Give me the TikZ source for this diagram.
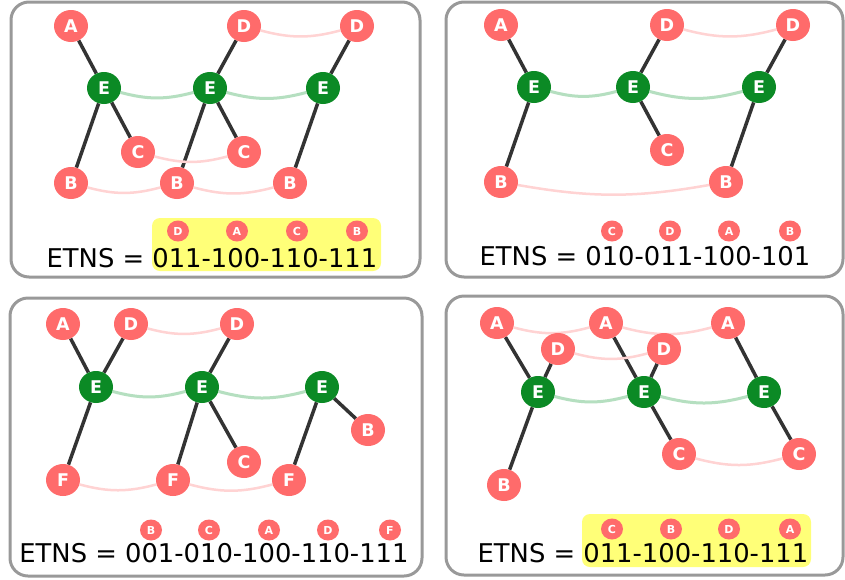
\documentclass[tikz,border=0pt]{standalone}
\usepackage{fontspec}
\setmainfont{DejaVu Sans}
\usetikzlibrary{shapes.geometric}
\pgfdeclarelayer{background}
\pgfsetlayers{background,main}
\definecolor{nodered}{HTML}{FF6B6B}
\definecolor{nodegreen}{HTML}{0B8A25}
\definecolor{lightgreen}{HTML}{B5DFC0}
\definecolor{lightpink}{HTML}{FFD3D3}
\definecolor{hlyellow}{HTML}{FFFF78}
\definecolor{framegray}{HTML}{999999}
\definecolor{edgedark}{HTML}{333333}
\tikzset{
  panel/.style={draw=framegray, line width=3pt, rounded corners=18pt},
  rnode/.style={ellipse, fill=nodered, text=white, inner sep=0pt, minimum width=34pt, minimum height=32pt, font=\fontsize{17.5}{17.5}\selectfont\bfseries},
  enode/.style={ellipse, fill=nodegreen, text=white, inner sep=0pt, minimum width=34pt, minimum height=32pt, font=\fontsize{17.5}{17.5}\selectfont\bfseries},
  snode/.style={ellipse, fill=nodered, text=white, inner sep=0pt, minimum width=22pt, minimum height=21pt, font=\fontsize{11}{11}\selectfont\bfseries},
  tree/.style={draw=edgedark, line width=3.5pt},
  gcurve/.style={draw=lightgreen, line width=3pt, out=-15, in=195},
  pcurve/.style={draw=lightpink, line width=2.5pt, out=-15, in=195},
  hl/.style={fill=hlyellow, rounded corners=8pt},
  etns/.style={anchor=base, inner sep=0pt, font=\fontsize{25.8}{26}\selectfont},
}
\begin{document}
\begin{tikzpicture}[x=1pt, y=-1pt]
\useasboundingbox (0,0) rectangle (845,579);
% ---------- frames ----------
\draw[panel] (11,2) rectangle (420,277);
\draw[panel] (446,2) rectangle (843,277);
\draw[panel] (10,298) rectangle (422,576);
\draw[panel] (446,296) rectangle (843,575);
% ---------- highlights ----------
\fill[hl] (152,218) rectangle (381,271);
\fill[hl] (582,514) rectangle (811,567);

% ================= Panel 1 =================
\node[rnode] (p1A) at (71,26) {A};
\node[rnode] (p1D1) at (244,26) {D};
\node[rnode] (p1D2) at (357,26) {D};
\node[enode] (p1E1) at (104,88) {E};
\node[enode] (p1E2) at (210,88) {E};
\node[enode] (p1E3) at (323,88) {E};
\node[rnode] (p1C1) at (138,152) {C};
\node[rnode] (p1C2) at (244,152) {C};
\node[rnode] (p1B1) at (71,183) {B};
\node[rnode] (p1B2) at (177,183) {B};
\node[rnode] (p1B3) at (290,183) {B};
\node[snode] (p1s1) at (178,231) {D};
\node[snode] (p1s2) at (237,231) {A};
\node[snode] (p1s3) at (297,231) {C};
\node[snode] (p1s4) at (357,231) {B};
\node[etns] (p1t) at (212,267) {ETNS = 011-100-110-111};

% ================= Panel 2 =================
\node[rnode] (p2A) at (501,25) {A};
\node[rnode] (p2D1) at (667,25) {D};
\node[rnode] (p2D2) at (793,25) {D};
\node[enode] (p2E1) at (534,87) {E};
\node[enode] (p2E2) at (633,87) {E};
\node[enode] (p2E3) at (759,87) {E};
\node[rnode] (p2C) at (667,150) {C};
\node[rnode] (p2B1) at (501,182) {B};
\node[rnode] (p2B2) at (726,182) {B};
\node[snode] (p2s1) at (612,231) {C};
\node[snode] (p2s2) at (670,231) {D};
\node[snode] (p2s3) at (729,231) {A};
\node[snode] (p2s4) at (790,231) {B};
\node[etns] (p2t) at (645,265) {ETNS = 010-011-100-101};

% ================= Panel 3 =================
\node[rnode] (p3A) at (63,324) {A};
\node[rnode] (p3D1) at (131,324) {D};
\node[rnode] (p3D2) at (237,324) {D};
\node[enode] (p3E1) at (96,387) {E};
\node[enode] (p3E2) at (202,387) {E};
\node[enode] (p3E3) at (322,387) {E};
\node[rnode] (p3B) at (368,430) {B};
\node[rnode] (p3C) at (244,462) {C};
\node[rnode] (p3F1) at (63,480) {F};
\node[rnode] (p3F2) at (173,480) {F};
\node[rnode] (p3F3) at (289,480) {F};
\node[snode] (p3s1) at (151,530) {B};
\node[snode] (p3s2) at (209,530) {C};
\node[snode] (p3s3) at (269,530) {A};
\node[snode] (p3s4) at (328,530) {D};
\node[snode] (p3s5) at (390,530) {F};
\node[etns] (p3t) at (214,562) {ETNS = 001-010-100-110-111};

% ================= Panel 4 =================
\node[rnode] (p4A1) at (497,323) {A};
\node[rnode] (p4A2) at (606,323) {A};
\node[rnode] (p4A3) at (728,323) {A};
\node[rnode] (p4D1) at (558,349) {D};
\node[rnode] (p4D2) at (664,349) {D};
\node[enode] (p4E1) at (538,392) {E};
\node[enode] (p4E2) at (644,392) {E};
\node[enode] (p4E3) at (764,392) {E};
\node[rnode] (p4C1) at (679,454) {C};
\node[rnode] (p4C2) at (799,454) {C};
\node[rnode] (p4B) at (504,485) {B};
\node[snode] (p4s1) at (612,529) {C};
\node[snode] (p4s2) at (671,529) {B};
\node[snode] (p4s3) at (729,529) {D};
\node[snode] (p4s4) at (790,529) {A};
\node[etns] (p4t) at (643,562) {ETNS = 011-100-110-111};

\begin{pgfonlayer}{background}
\fill[white] (0,0) rectangle (845,579);
% panel 1
\draw[tree] (p1A) -- (p1E1);
\draw[tree] (p1E1) -- (p1B1);
\draw[tree] (p1E1) -- (p1C1);
\draw[tree] (p1D1) -- (p1E2);
\draw[tree] (p1E2) -- (p1B2);
\draw[tree] (p1E2) -- (p1C2);
\draw[tree] (p1D2) -- (p1E3);
\draw[tree] (p1E3) -- (p1B3);
\draw[gcurve] (p1E1) to (p1E2);
\draw[gcurve] (p1E2) to (p1E3);
\draw[pcurve] (p1D1) to (p1D2);
\draw[pcurve] (p1C1) to (p1C2);
\draw[pcurve] (p1B1) to (p1B2);
\draw[pcurve] (p1B2) to (p1B3);
% panel 2
\draw[tree] (p2A) -- (p2E1);
\draw[tree] (p2E1) -- (p2B1);
\draw[tree] (p2D1) -- (p2E2);
\draw[tree] (p2E2) -- (p2C);
\draw[tree] (p2D2) -- (p2E3);
\draw[tree] (p2E3) -- (p2B2);
\draw[gcurve] (p2E1) to (p2E2);
\draw[gcurve] (p2E2) to (p2E3);
\draw[pcurve] (p2D1) to (p2D2);
\draw[pcurve] (p2B1) to[out=-10, in=190] (p2B2);
% panel 3
\draw[tree] (p3A) -- (p3E1);
\draw[tree] (p3D1) -- (p3E1);
\draw[tree] (p3E1) -- (p3F1);
\draw[tree] (p3D2) -- (p3E2);
\draw[tree] (p3E2) -- (p3F2);
\draw[tree] (p3E2) -- (p3C);
\draw[tree] (p3E3) -- (p3F3);
\draw[tree] (p3E3) -- (p3B);
\draw[gcurve] (p3E1) to (p3E2);
\draw[gcurve] (p3E2) to (p3E3);
\draw[pcurve] (p3D1) to (p3D2);
\draw[pcurve] (p3F1) to (p3F2);
\draw[pcurve] (p3F2) to (p3F3);
% panel 4
\draw[tree] (p4A1) -- (p4E1);
\draw[tree] (p4D1) -- (p4E1);
\draw[tree] (p4E1) -- (p4B);
\draw[tree] (p4A2) -- (p4E2);
\draw[tree] (p4D2) -- (p4E2);
\draw[tree] (p4E2) -- (p4C1);
\draw[tree] (p4A3) -- (p4E3);
\draw[tree] (p4E3) -- (p4C2);
\draw[gcurve] (p4E1) to (p4E2);
\draw[gcurve] (p4E2) to (p4E3);
\draw[pcurve] (p4A1) to (p4A2);
\draw[pcurve] (p4A2) to (p4A3);
\draw[pcurve] (p4D1) to (p4D2);
\draw[pcurve] (p4C1) to (p4C2);
\end{pgfonlayer}
\end{tikzpicture}
\end{document}
